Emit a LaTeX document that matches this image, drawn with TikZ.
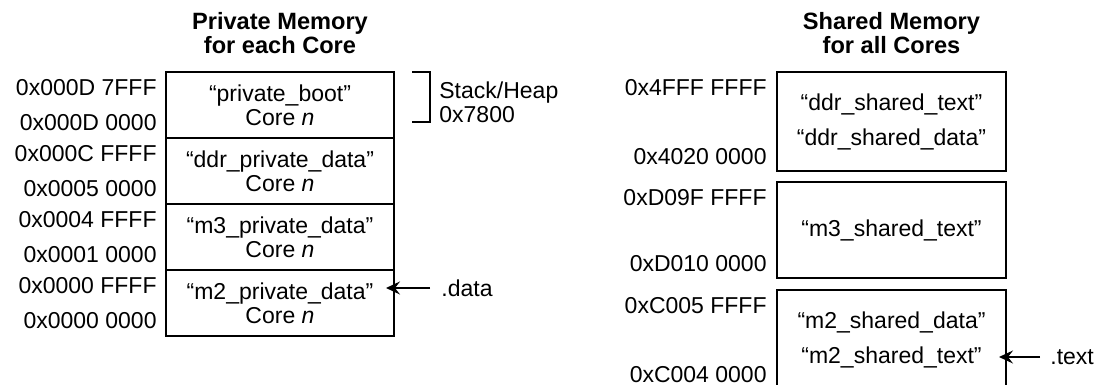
\documentclass[tikz,border=0pt]{standalone}
\usepackage{fontspec}
\setmainfont{Liberation Sans}
\usepackage{tikz}
\usetikzlibrary{arrows.meta,positioning}

\tikzset{
  memrow/.style={draw, line width=0.85pt, inner sep=0pt, outer sep=0pt, minimum width=114pt, minimum height=33pt, align=center},
  memblk/.style={draw, line width=0.85pt, inner sep=0pt, outer sep=0pt, minimum width=114.5pt, align=center},
  addr/.style={anchor=east, inner sep=0pt},
  heading/.style={font=\bfseries\fontsize{11.8}{10.8}\selectfont, align=center, inner sep=0pt},
  ptr/.style={-{Stealth[length=7pt,width=6.5pt,inset=2.5pt]}, line width=0.7pt},
}

\begin{document}
\begin{tikzpicture}[x=0.5pt, y=-0.5pt, font=\fontsize{11.5}{12}\selectfont]
\useasboundingbox (0,0) rectangle (1098,385);

% headings
\node[heading] (privhead) at (280,33) {Private Memory\\for each Core};
\node[heading] (sharedhead) at (891.5,33) {Shared Memory\\for all Cores};

% private memory: one row per section, stacked
\node[memrow] (boot) at (280,105) {“private\_boot”\\Core \textit{n}};
\node[memrow, below=0pt of boot] (ddrpriv) {“ddr\_private\_data”\\Core \textit{n}};
\node[memrow, below=0pt of ddrpriv] (m3priv) {“m3\_private\_data”\\Core \textit{n}};
\node[memrow, below=0pt of m3priv] (m2priv) {“m2\_private\_data”\\Core \textit{n}};

% private addresses
\node[addr] (boothi) at (157,88) {0x000D 7FFF};
\node[addr] (bootlo) at (157,123) {0x000D 0000};
\node[addr] (ddrprivhi) at (157,154) {0x000C FFFF};
\node[addr] (ddrprivlo) at (157,189) {0x0005 0000};
\node[addr] (m3privhi) at (157,220) {0x0004 FFFF};
\node[addr] (m3privlo) at (157,255) {0x0001 0000};
\node[addr] (m2privhi) at (157,286) {0x0000 FFFF};
\node[addr] (m2privlo) at (157,321) {0x0000 0000};

% stack/heap bracket beside the boot row
\draw[line width=0.85pt] (412,72) -| (430,122) -- (412,122);
\node[anchor=west, align=left, inner sep=0pt] (stackheap) at (439,102.5) {Stack/Heap\\0x7800};

% .data pointer
\node[anchor=west, inner sep=0pt] (datalbl) at (441,288) {.data};
\coordinate (datatip) at (386,288);
\draw[ptr, shorten <=5.5pt] (datalbl.west) -- (datatip);

% shared memory blocks
\node[memblk, minimum height=49.5pt] (ddrshared) at (891.5,121.5) {“ddr\_shared\_text”\\[5.5pt]“ddr\_shared\_data”};
\node[memblk, minimum height=48pt] (m3shared) at (891.5,230) {“m3\_shared\_text”};
\node[memblk, minimum height=49.5pt] (m2shared) at (891.5,339.5) {“m2\_shared\_data”\\[5.5pt]“m2\_shared\_text”};

% shared addresses
\node[addr] (ddrsharedhi) at (767,88) {0x4FFF FFFF};
\node[addr] (ddrsharedlo) at (767,157) {0x4020 0000};
\node[addr] (m3sharedhi) at (767,198) {0xD09F FFFF};
\node[addr] (m3sharedlo) at (767,264) {0xD010 0000};
\node[addr] (m2sharedhi) at (767,306) {0xC005 FFFF};
\node[addr] (m2sharedlo) at (767,375) {0xC004 0000};

% .text pointer
\node[anchor=west, inner sep=0pt] (textlbl) at (1050,357) {.text};
\coordinate (texttip) at (999,357);
\draw[ptr, shorten <=5pt] (textlbl.west) -- (texttip);
\end{tikzpicture}
\end{document}
